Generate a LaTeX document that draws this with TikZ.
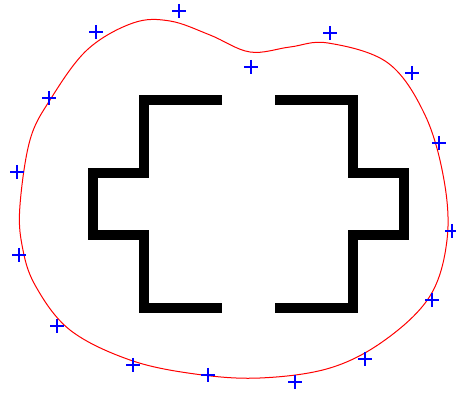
\documentclass[tikz,border=0pt]{standalone}
\begin{document}
\begin{tikzpicture}[x=1pt,y=-1pt,
  outline/.style={red,line width=1pt},
  bracket/.style={black,line width=10pt,line join=miter,line cap=butt},
  plusmark/.style={blue,line width=1.3pt}]
\useasboundingbox[fill=white] (0,0) rectangle (456,393);
% closed outline curve
\draw[outline] plot[smooth cycle,tension=0.6] coordinates {
 (20,205) (30,140) (50,100) (87,50) (133,23) (170,21) (210,35) (250,52)
 (290,47) (328,43) (388,63) (425,115) (444,180) (447,240) (430,296)
 (385,340) (330,368) (260,378) (195,374) (130,360) (70,330) (35,285) (22,245)};
% brackets
\draw[bracket] (222,100) -- (143.5,100) -- (143.5,173) -- (93,173) -- (93,235)
  -- (143.5,235) -- (143.5,308) -- (222,308);
\draw[bracket] (275,100) -- (353,100) -- (353,173) -- (404,173) -- (404,235)
  -- (353,235) -- (353,308) -- (275,308);
% sample markers
\foreach \px/\py in {179/11,96/32,49/98,17/172,330/33,251/67,412/73,439/143,
  19/255,57/326,133/365,208/375,452/231,432/300,365/359,295/382}{
  \draw[plusmark] (\px-7,\py) -- (\px+7,\py) (\px,\py-7) -- (\px,\py+7);
}
\end{tikzpicture}
\end{document}
